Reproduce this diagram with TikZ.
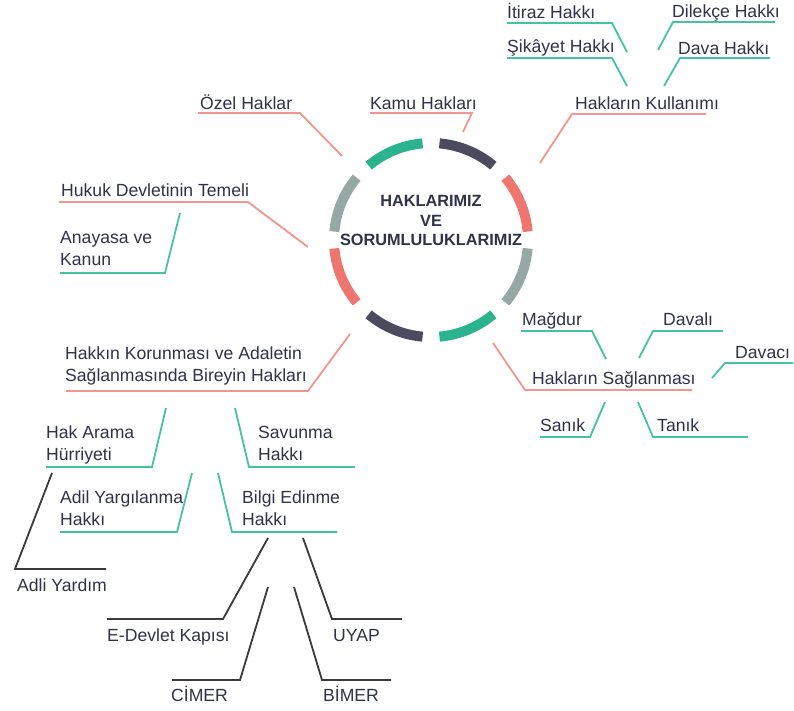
\documentclass[tikz,border=0pt]{standalone}
\usepackage{fontspec}
\setmainfont{Liberation Sans}
\definecolor{sgreen}{HTML}{2AB38E}
\definecolor{sdark}{HTML}{4B4A5F}
\definecolor{sred}{HTML}{EF7670}
\definecolor{sgray}{HTML}{96A8A3}
\definecolor{pinkc}{HTML}{F3958E}
\definecolor{tealc}{HTML}{45C2A1}
\definecolor{blackc}{HTML}{3A3A3A}
\definecolor{txt}{HTML}{30324A}
\begin{document}
\begin{tikzpicture}[x=1pt,y=-1pt,
  lbl/.style={anchor=base west, inner sep=0pt, text=txt, font=\fontsize{17.6}{22}\selectfont},
  mlbl/.style={anchor=south west, inner sep=0pt, text depth=0pt, text=txt, align=left, font=\fontsize{17.6}{22}\selectfont},
  pinkln/.style={draw=pinkc, line width=1.8},
  tealln/.style={draw=tealc, line width=1.8},
  blackln/.style={draw=blackc, line width=1.8},
  seg/.style={line width=10}]
\useasboundingbox[fill=white] (0,0) rectangle (794,710);

% hub ring
\coordinate (hub) at (431,240);
\foreach \s/\e/\c in {-5/-40/sred,-50/-85/sdark,-95/-130/sgreen,-140/-175/sgray,140/175/sred,95/130/sdark,50/85/sgreen,5/40/sgray}{
  \draw[seg,\c] (hub) ++(\s:97) arc[start angle=\s, end angle=\e, radius=97];
}
\node[anchor=south, inner sep=0pt, text depth=0pt, align=center, text=txt,
  font=\fontsize{16.3}{19.5}\selectfont\bfseries] (title) at (431,246)
  {HAKLARIMIZ\\VE\\SORUMLULUKLARIMIZ};

% labels
\node[lbl] (itiraz) at (507,18) {İtiraz Hakkı};
\node[lbl] (dilekce) at (672,17) {Dilekçe Hakkı};
\node[lbl] (sikayet) at (507,52) {Şikâyet Hakkı};
\node[lbl] (dava) at (678,54) {Dava Hakkı};
\node[lbl] (kullanim) at (575,109) {Hakların Kullanımı};
\node[lbl] (ozel) at (200,109) {Özel Haklar};
\node[lbl] (kamu) at (370,109) {Kamu Hakları};
\node[lbl] (hukuk) at (61,196) {Hukuk Devletinin Temeli};
\node[mlbl] (anayasa) at (60,266) {Anayasa ve\\Kanun};
\node[mlbl] (korunma) at (65,382) {Hakkın Korunması ve Adaletin\\Sağlanmasında Bireyin Hakları};
\node[lbl] (magdur) at (522,325) {Mağdur};
\node[lbl] (davali) at (663,325) {Davalı};
\node[lbl] (davaci) at (735,358) {Davacı};
\node[lbl] (saglanma) at (532,384) {Hakların Sağlanması};
\node[lbl] (sanik) at (540,431) {Sanık};
\node[lbl] (tanik) at (657,431) {Tanık};
\node[mlbl] (hakarama) at (46,461) {Hak Arama\\Hürriyeti};
\node[mlbl] (savunma) at (258,461) {Savunma\\Hakkı};
\node[mlbl] (adil) at (60,526) {Adil Yargılanma\\Hakkı};
\node[mlbl] (bilgi) at (242,526) {Bilgi Edinme\\Hakkı};
\node[lbl] (adli) at (17,591) {Adli Yardım};
\node[lbl] (edevlet) at (107,641) {E-Devlet Kapısı};
\node[lbl] (uyap) at (333,641) {UYAP};
\node[lbl] (cimer) at (171,701) {CİMER};
\node[lbl] (bimer) at (323,701) {BİMER};

% connector points
\coordinate (p1) at (540,163);
\coordinate (p2) at (342,156);
\coordinate (p3) at (463,132);
\coordinate (p4) at (308,247);
\coordinate (p5) at (350,334);
\coordinate (p6) at (493,343);
\coordinate (k1) at (627,52);
\coordinate (k2) at (658,50);
\coordinate (k3) at (627,86);
\coordinate (k4) at (664,86);
\coordinate (a1) at (180,213);
\coordinate (s1) at (606,359);
\coordinate (s2) at (639,358);
\coordinate (s3) at (712,378);
\coordinate (s4) at (605,402);
\coordinate (s5) at (638,402);
\coordinate (h1) at (166,408);
\coordinate (h2) at (235,408);
\coordinate (h3) at (192,473);
\coordinate (h4) at (218,473);
\coordinate (b1) at (52,473);
\coordinate (b2) at (268,538);
\coordinate (b3) at (303,538);
\coordinate (b4) at (268,587);
\coordinate (b5) at (294,587);

% pink spokes
\draw[pinkln] (p1) -- (572,114) -- (706,114);
\draw[pinkln] (p2) -- (300,113) -- (198,113);
\draw[pinkln] (p3) -- (472,113) -- (370,113);
\draw[pinkln] (p4) -- (248,202) -- (59,202);
\draw[pinkln] (p5) -- (308,391) -- (66,391);
\draw[pinkln] (p6) -- (525,390) -- (692,390);

% teal branches
\draw[tealln] (k1) -- (612,23) -- (507,23);
\draw[tealln] (k2) -- (673,22) -- (775,22);
\draw[tealln] (k3) -- (612,58) -- (507,58);
\draw[tealln] (k4) -- (680,58) -- (770,58);
\draw[tealln] (a1) -- (165,273) -- (60,273);
\draw[tealln] (s1) -- (592,331) -- (521,331);
\draw[tealln] (s2) -- (653,331) -- (723,331);
\draw[tealln] (s3) -- (725,363) -- (793,363);
\draw[tealln] (s4) -- (590,437) -- (540,437);
\draw[tealln] (s5) -- (653,437) -- (748,437);
\draw[tealln] (h1) -- (152,467) -- (46,467);
\draw[tealln] (h2) -- (249,467) -- (355,467);
\draw[tealln] (h3) -- (177,532) -- (60,532);
\draw[tealln] (h4) -- (232,532) -- (337,532);

% black branches
\draw[blackln] (b1) -- (15,569) -- (106,569);
\draw[blackln] (b2) -- (223,619) -- (107,619);
\draw[blackln] (b3) -- (332,619) -- (402,619);
\draw[blackln] (b4) -- (240,680) -- (172,680);
\draw[blackln] (b5) -- (322,680) -- (391,680);
\end{tikzpicture}
\end{document}
